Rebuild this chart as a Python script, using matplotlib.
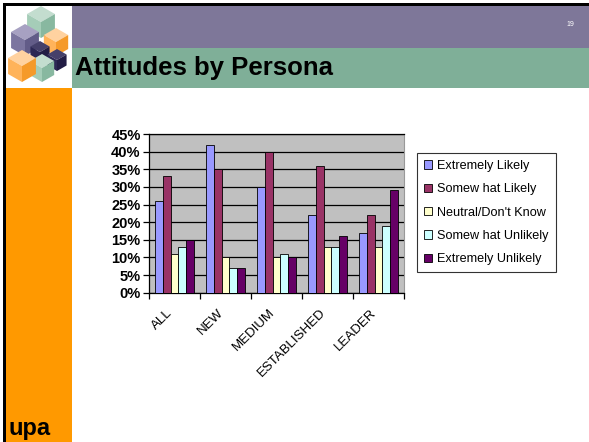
import matplotlib
matplotlib.use("Agg")
import matplotlib.pyplot as plt
import numpy as np
from matplotlib.patches import Rectangle, Polygon
from matplotlib.transforms import ScaledTranslation

plt.rcParams['font.family'] = ['Liberation Sans', 'DejaVu Sans']

categories = ["ALL", "NEW", "MEDIUM", "ESTABLISHED", "LEADER"]
series_names = ["Extremely Likely", "Somew hat Likely", "Neutral/Don't Know",
                "Somew hat Unlikely", "Extremely Unlikely"]
extremely_likely = [0.26, 0.42, 0.30, 0.22, 0.17]
somewhat_likely = [0.33, 0.35, 0.40, 0.36, 0.22]
neutral = [0.11, 0.10, 0.10, 0.13, 0.13]
somewhat_unlikely = [0.13, 0.07, 0.11, 0.13, 0.19]
extremely_unlikely = [0.15, 0.07, 0.10, 0.16, 0.29]
series_values = [extremely_likely, somewhat_likely, neutral, somewhat_unlikely, extremely_unlikely]
colors = ["#9999FF", "#993366", "#FFFFCC", "#CCFFFF", "#660066"]
ytick_labels = ["0%", "5%", "10%", "15%", "20%", "25%", "30%", "35%", "40%", "45%"]
title_text = "Attitudes by Persona"
page_number = "19"
footer_text = "upa"

W, H = 589, 442
fig = plt.figure(figsize=(W / 100, H / 100), dpi=100)
fig.patch.set_facecolor("white")

# background decoration axes in pixel coordinates
bg = fig.add_axes([0, 0, 1, 1])
bg.set_xlim(0, W)
bg.set_ylim(H, 0)
bg.axis("off")
bg.add_patch(Rectangle((3, 3), W - 3, 2.5, color="black", lw=0))
bg.add_patch(Rectangle((3, 3), 2.5, H - 3, color="black", lw=0))
bg.add_patch(Rectangle((72, 5.5), W - 72, 42.5, color="#7E7799", lw=0))
bg.add_patch(Rectangle((72, 48), W - 72, 40, color="#7FAF98", lw=0))
bg.add_patch(Rectangle((5.5, 87.5), 66.5, H - 87.5, color="#FF9900", lw=0))

def cube(cx, cy, s, ctop, cleft, cright):
    k = 0.87 * s
    bg.add_patch(Polygon([(cx, cy - s), (cx + k, cy - s / 2), (cx, cy), (cx - k, cy - s / 2)], closed=True, color=ctop, lw=0))
    bg.add_patch(Polygon([(cx - k, cy - s / 2), (cx, cy), (cx, cy + s), (cx - k, cy + s / 2)], closed=True, color=cleft, lw=0))
    bg.add_patch(Polygon([(cx, cy), (cx + k, cy - s / 2), (cx + k, cy + s / 2), (cx, cy + s)], closed=True, color=cright, lw=0))

green = ("#C3DDCF", "#A5CDB8", "#88B8A0")
orange = ("#FFD2A0", "#FFB35A", "#F59A2A")
purple = ("#A7A1C2", "#7C76A0", "#625C88")
navy = ("#45406A", "#2D2855", "#221D45")
cube(41, 22, 16, *green)
cube(56, 42, 14, *orange)
cube(25, 40, 16, *purple)
cube(40, 52, 11, *navy)
cube(57, 60, 11, *navy)
cube(42, 68, 14, *green)
cube(22, 66, 16, *orange)

bg.text(75, 75, title_text, fontsize=18.5, fontweight="bold", color="black", va="baseline", ha="left")
bg.text(570, 24, page_number, fontsize=5, color="white", va="center", ha="center")
bg.text(8, 435, footer_text, fontsize=17, fontweight="bold", color="black", va="baseline", ha="left")

# chart axes
left, right, top, bottom = 149, 404, 134, 292.7
ax = fig.add_axes([left / W, 1 - bottom / H, (right - left) / W, (bottom - top) / H])
ax.set_facecolor("#C0C0C0")
n = len(series_values)
bw = 1 / (n + 1.5)
x = np.arange(len(categories))
for i, (vals, col, name) in enumerate(zip(series_values, colors, series_names)):
    ax.bar(x - 2.5 * bw + (i + 0.5) * bw, vals, width=bw, color=col, edgecolor="black",
           linewidth=0.6, label=name, zorder=3)
ax.set_xlim(-0.5, len(categories) - 0.5)
ax.set_ylim(0, 0.45)
yt = np.arange(0, 0.451, 0.05)
ax.set_yticks(yt)
ax.set_yticklabels(ytick_labels, fontsize=10.5, fontweight="bold")
ax.yaxis.grid(True, color="black", linewidth=0.9, zorder=1)
ax.set_axisbelow(True)
ax.set_xticks(np.arange(-0.5, len(categories), 1.0))
ax.set_xticklabels([])
ax.set_xticks(x, minor=True)
ax.set_xticklabels(categories, minor=True, rotation=45, ha="right", va="center",
                   rotation_mode="anchor", fontsize=9.5)
ax.tick_params(axis="x", which="minor", length=0, pad=13)
ax.tick_params(axis="x", which="major", length=4, width=0.9, color="black", direction="out")
ax.tick_params(axis="y", length=4.5, width=0.9, color="black", direction="out", pad=1.5)
offset = ScaledTranslation(-4 / 100, 0, fig.dpi_scale_trans)
for lbl in ax.get_xticklabels(minor=True):
    lbl.set_transform(lbl.get_transform() + offset)
for s in ["left", "bottom"]:
    ax.spines[s].set_color("black")
    ax.spines[s].set_linewidth(0.9)
ax.spines["top"].set_color("black")
ax.spines["top"].set_linewidth(0.9)
ax.spines["right"].set_color("#999999")
ax.spines["right"].set_linewidth(0.8)

handles, labels = ax.get_legend_handles_labels()
lx0, ly0 = 417, 153
leg = fig.legend(handles, labels, loc="upper left", bbox_to_anchor=(lx0 / W, 1 - ly0 / H),
                 fontsize=9.1, frameon=True, fancybox=False, handlelength=0.65, handleheight=0.65,
                 handletextpad=0.4, labelspacing=0.9, borderpad=0.55, borderaxespad=0)
leg.get_frame().set_edgecolor("black")
leg.get_frame().set_linewidth(0.8)

fig.savefig("out.png", dpi=100)
